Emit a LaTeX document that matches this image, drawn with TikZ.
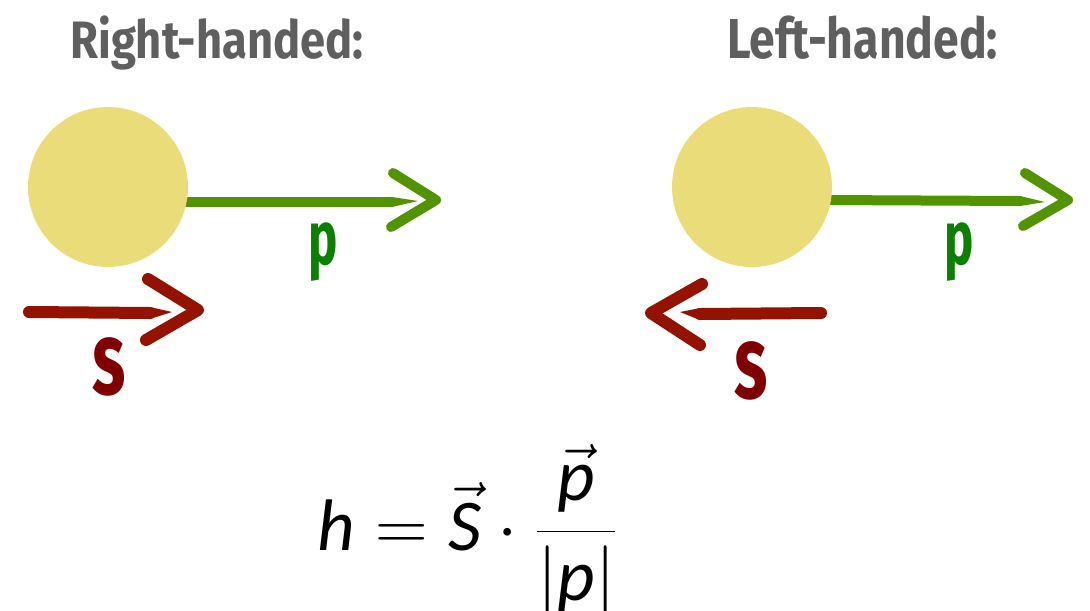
\documentclass[tikz,border=0pt]{standalone}
\usepackage{fontspec}
\usepackage{graphicx}
\usetikzlibrary{calc}
\newfontfamily\hand{Fira Sans}
\newfontfamily\fsans{Carlito}
\definecolor{ballc}{HTML}{EBDC7A}
\definecolor{gshaftc}{HTML}{529400}
\definecolor{plab}{HTML}{0A7F00}
\definecolor{rshaftc}{HTML}{941200}
\definecolor{slab}{HTML}{800000}
\definecolor{titlec}{HTML}{5F5F5F}
\newcommand\fv[1]{\mbox{\fsans\itshape #1}}
\begin{document}
\begin{tikzpicture}[x=0.75pt,y=-0.75pt,
  ball/.style={circle,fill=ballc,minimum size=120pt,inner sep=0pt},
  titletext/.style={text=titlec,inner sep=0pt,anchor=base west},
  gshaft/.style={draw=gshaftc,line width=7.5pt,line cap=round},
  gbarb/.style={draw=gshaftc,line width=7.5pt,line cap=round,line join=round},
  rshaft/.style={draw=rshaftc,line width=9pt,line cap=round},
  rbarb/.style={draw=rshaftc,line width=9pt,line cap=round,line join=round},
  plabel/.style={text=plab,inner sep=0pt},
  slabel/.style={text=slab,inner sep=0pt}]
\useasboundingbox (0,0) rectangle (1090,611);
\clip (0,0) rectangle (1090,611);

% titles
\node[titletext] (t1) at (70,58) {\resizebox{220pt}{32pt}{\hand\bfseries Right-handed:}};
\node[titletext] (t2) at (727,58) {\resizebox{203pt}{32pt}{\hand\bfseries Left-handed:}};

% ---- left: momentum (drawn under the ball)
\coordinate (g1s) at (180,202);
\coordinate (g1e) at (392,202);
\coordinate (g1t) at (436,200);
\coordinate (g1a) at (393,173);
\coordinate (g1b) at (391,227);
\draw[gshaft] (g1s) -- (g1e);
\fill[gshaftc] ($(g1e)+(0,-5)$) -- (418,201) -- ($(g1e)+(0,5)$) -- cycle;
\draw[gbarb] (g1a) -- (g1t) -- (g1b);

% ---- right: momentum
\coordinate (g2s) at (824,200);
\coordinate (g2e) at (1020,201);
\coordinate (g2t) at (1068,200);
\coordinate (g2a) at (1025,173);
\coordinate (g2b) at (1023,226);
\draw[gshaft] (g2s) -- (g2e);
\fill[gshaftc] ($(g2e)+(0,-5)$) -- (1045,202) -- ($(g2e)+(0,5)$) -- cycle;
\draw[gbarb] (g2a) -- (g2t) -- (g2b);

% balls
\node[ball] (c1) at (108,187) {};
\node[ball] (c2) at (752,187) {};

\node[plabel] (p1) at (323,252) {\resizebox*{22pt}{44pt}{\hand\bfseries p}};
\node[plabel] (p2) at (959,252) {\resizebox*{22pt}{44pt}{\hand\bfseries p}};

% ---- left: spin
\coordinate (r1s) at (29,312);
\coordinate (r1e) at (150,313);
\coordinate (r1t) at (198,310);
\coordinate (r1a) at (148,279);
\coordinate (r1b) at (146,340);
\draw[rshaft] (r1s) -- (r1e);
\fill[rshaftc] ($(r1e)+(0,-6)$) -- (172,312) -- ($(r1e)+(0,6)$) -- cycle;
\draw[rbarb] (r1a) -- (r1t) -- (r1b);
\node[slabel] (s1) at (109,367) {\resizebox*{25pt}{44pt}{\hand\bfseries s}};

% ---- right: spin
\coordinate (r2s) at (821,313);
\coordinate (r2e) at (700,314);
\coordinate (r2t) at (651,313);
\coordinate (r2a) at (702,284);
\coordinate (r2b) at (700,345);
\draw[rshaft] (r2s) -- (r2e);
\fill[rshaftc] ($(r2e)+(0,-6)$) -- (680,312) -- ($(r2e)+(0,6)$) -- cycle;
\draw[rbarb] (r2a) -- (r2t) -- (r2b);
\node[slabel] (s2) at (751,371) {\resizebox*{25pt}{44pt}{\hand\bfseries s}};

% formula
\node[anchor=base west,inner sep=0pt,scale=2.2] (f) at (317,550)
  {\Huge$\displaystyle \fv{h} = \vec{\fv{S}}\cdot\frac{\vec{\fv{p}}}{|\fv{p}|}$};
\end{tikzpicture}
\end{document}
